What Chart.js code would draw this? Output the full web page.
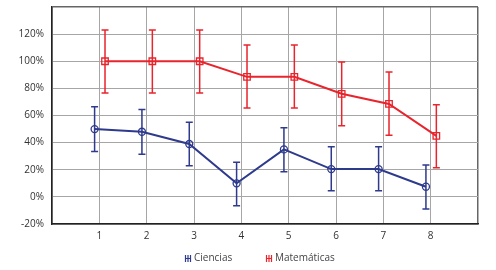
<!DOCTYPE html>
<html><head><meta charset="utf-8">
<script src="https://cdn.jsdelivr.net/npm/chart.js@4/dist/chart.umd.min.js"></script>
<style>html,body{margin:0;padding:0;background:#fff}#wrap{width:496px;height:270px}</style>
</head><body><div id="wrap"><canvas id="c" width="496" height="270"></canvas></div>
<script>
const categories = [1, 2, 3, 4, 5, 6, 7, 8];
const yTicks = [-20, 0, 20, 40, 60, 80, 100, 120];
const cienciasValues = [50, 48, 39, 10, 35, 20.5, 20.5, 7.5];
const cienciasUpper  = [66.5, 64.5, 55, 25.5, 51, 37, 37, 23.5];
const cienciasLower  = [33.5, 31.5, 23, -6.5, 18.5, 4.5, 4.5, -9];
const matematicasValues = [100, 100, 100, 88.5, 88.5, 76, 68.5, 45];
const matematicasUpper  = [123, 123, 123, 112, 112, 99.5, 92, 68];
const matematicasLower  = [76.5, 76.5, 76.5, 65.5, 65.5, 52.5, 45.5, 21.5];

const BLUE = '#2e3a8c', RED = '#e8242c';
const OFF_BLUE = -0.1, OFF_RED = 0.12;
const FONT = '10px "Open Sans"';

const errorBars = {
  id: 'errorBars',
  afterDatasetsDraw(chart){
    const ctx = chart.ctx, ys = chart.scales.y;
    chart.data.datasets.forEach((ds, di) => {
      const meta = chart.getDatasetMeta(di);
      ctx.save(); ctx.strokeStyle = ds.borderColor; ctx.lineWidth = 1.5;
      meta.data.forEach((pt, i) => {
        const yt = ys.getPixelForValue(ds.upper[i]), yb = ys.getPixelForValue(ds.lower[i]);
        ctx.beginPath();
        ctx.moveTo(pt.x, yt); ctx.lineTo(pt.x, yb);
        ctx.moveTo(pt.x-3.5, yt); ctx.lineTo(pt.x+3.5, yt);
        ctx.moveTo(pt.x-3.5, yb); ctx.lineTo(pt.x+3.5, yb);
        ctx.stroke();
      });
      ctx.restore();
    });
  }
};

// legend drawn below the plot: icon + label per dataset
const customLegend = {
  id: 'customLegend',
  afterDraw(chart){
    const ctx = chart.ctx;
    const starts = [185, 266];
    const y = 258.5;
    ctx.save();
    ctx.font = FONT; ctx.textBaseline = 'middle';
    chart.data.datasets.forEach((ds, i) => {
      const x = starts[i];
      ctx.strokeStyle = ds.borderColor; ctx.lineWidth = 1.2;
      ctx.beginPath();
      ctx.moveTo(x+0.5, y-3.5); ctx.lineTo(x+0.5, y+3.5);
      ctx.moveTo(x+5.5, y-3.5); ctx.lineTo(x+5.5, y+3.5);
      ctx.moveTo(x+3, y-3.5); ctx.lineTo(x+3, y+3.5);
      ctx.moveTo(x+0.5, y); ctx.lineTo(x+5.5, y);
      ctx.stroke();
      ctx.fillStyle = '#444';
      ctx.fillText(ds.label, x + 9, y);
    });
    ctx.restore();
  }
};

new Chart(document.getElementById('c'), {
  type: 'line',
  data: {
    datasets: [
      { label: 'Ciencias', data: categories.map((c,i)=>({x:c+OFF_BLUE, y:cienciasValues[i]})),
        upper: cienciasUpper, lower: cienciasLower,
        borderColor: BLUE, borderWidth: 2, pointStyle: 'circle', pointRadius: 3.5,
        pointBackgroundColor: 'rgba(0,0,0,0)', pointBorderColor: BLUE, pointBorderWidth: 1.3, tension: 0 },
      { label: 'Matemáticas', data: categories.map((c,i)=>({x:c+OFF_RED, y:matematicasValues[i]})),
        upper: matematicasUpper, lower: matematicasLower,
        borderColor: RED, borderWidth: 2, pointStyle: 'rect', pointRadius: 4.6,
        pointBackgroundColor: 'rgba(0,0,0,0)', pointBorderColor: RED, pointBorderWidth: 1.3, tension: 0 }
    ]
  },
  options: {
    responsive: false, animation: false,
    layout: { padding: { left: 0, right: 18, top: 7, bottom: 24 } },
    plugins: { tooltip: { enabled: false }, legend: { display: false } },
    scales: {
      x: {
        type: 'linear', min: 0, max: 9,
        afterFit(s){ s.height = 22; s.paddingLeft = 0; s.paddingRight = 0; },
        ticks: { stepSize: 1, color: '#333', font: { family: 'Open Sans', size: 10 }, padding: 6,
          callback: v => (categories.includes(v) ? String(v) : '') },
        grid: { color: c => (c.tick && c.tick.value === 9 ? '#666' : '#a6a6a6'),
                lineWidth: c => (c.tick && c.tick.value === 9 ? 1.5 : 1), drawTicks: false },
        border: { color: '#222', width: 1.5 }
      },
      y: {
        min: -20, max: 140,
        afterFit(s){ s.width = 52; s.paddingTop = 0; s.paddingBottom = 0; },
        afterBuildTicks(s){ s.ticks = yTicks.concat([140]).map(v=>({value:v})); },
        ticks: { color: '#333', font: { family: 'Open Sans', size: 10 }, padding: 8,
          callback: v => (yTicks.includes(v) ? v + '%' : '') },
        grid: { color: c => (c.tick && c.tick.value === 140 ? '#666' : '#a6a6a6'),
                lineWidth: c => (c.tick && c.tick.value === 140 ? 1.5 : 1), drawTicks: false },
        border: { color: '#222', width: 1.5 }
      }
    }
  },
  plugins: [errorBars, customLegend]
});
</script></body></html>
